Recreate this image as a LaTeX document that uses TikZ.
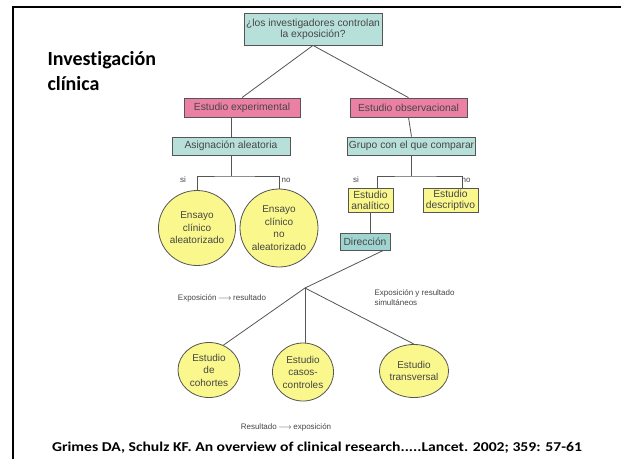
\documentclass[tikz,border=0pt]{standalone}
\usepackage{fontspec}
\setmainfont{Liberation Sans}
\newfontfamily\titlefont[Ligatures=NoCommon]{Carlito}
\usetikzlibrary{shapes.geometric}

\definecolor{tealfill}{RGB}{184,224,218}
\definecolor{tealdark}{RGB}{160,212,208}
\definecolor{pinkfill}{RGB}{236,128,164}
\definecolor{yellowfill}{RGB}{250,248,140}
\definecolor{edge}{RGB}{85,85,85}
\definecolor{ink}{RGB}{70,70,70}

\begin{document}
\begin{tikzpicture}[x=1pt, y=-1pt,
	box/.style = {rectangle, draw = edge, line width = 0.8pt,
		inner sep = 1pt, align = center, text = ink,
		font = \fontsize{10.3}{11}\selectfont},
	tealbox/.style = {box, fill = tealfill},
	pinkbox/.style = {box, fill = pinkfill},
	yellowbox/.style = {box, fill = yellowfill},
	disc/.style = {ellipse, draw = edge, line width = 0.8pt,
		fill = yellowfill, inner sep = 0pt, align = center, text = ink,
		font = \fontsize{10}{12.5}\selectfont},
	tag/.style = {text = ink, font = \fontsize{8}{9}\selectfont},
	note/.style = {text = ink, font = \fontsize{8}{10}\selectfont},
	link/.style = {draw = edge, line width = 0.8pt}]

	\useasboundingbox (0,0) rectangle (621,459);
	\fill[white] (0,0) rectangle (621,459);
	\draw[line width = 2pt] (13,459) -- (13,7) -- (621,7);

	\node[anchor = west, font = \titlefont\bfseries\fontsize{20}{25}\selectfont,
		align = left] (title) at (44,71) {Investigación\\clínica};

	\node[tealbox, minimum width = 138, minimum height = 32] (top) at (313,29)
		{¿los investigadores controlan\\la exposición?};

	\node[pinkbox, minimum width = 116, minimum height = 19] (exp) at (242,107.5)
		{Estudio experimental};
	\node[pinkbox, minimum width = 117, minimum height = 19] (obs) at (408.5,107.5)
		{Estudio observacional};

	\node[tealbox, minimum width = 118, minimum height = 18] (asig) at (231,146)
		{Asignación aleatoria};
	\node[tealbox, minimum width = 123, minimum height = 18] (grupo) at (411.5,146)
		{Grupo con el que comparar};

	\node[disc, minimum width = 75, minimum height = 75] (ecca) at (197,228)
		{Ensayo\\clínico\\aleatorizado};
	\node[disc, minimum width = 78, minimum height = 78] (eccna) at (279,228)
		{Ensayo\\clínico\\no\\aleatorizado};

	\node[yellowbox, minimum width = 45, minimum height = 24] (ana) at (370.5,200)
		{Estudio\\analítico};
	\node[yellowbox, minimum width = 55, minimum height = 24] (desc) at (450.5,200)
		{Estudio\\descriptivo};

	\node[tealbox, fill = tealdark, minimum width = 50, minimum height = 17] (dir) at (365,241.5)
		{Dirección};

	\node[disc, minimum width = 62, minimum height = 55] (coh) at (209,370)
		{Estudio\\de\\cohortes};
	\node[disc, minimum width = 61, minimum height = 58] (cc) at (303,372)
		{Estudio\\casos-\\controles};
	\node[disc, minimum width = 62, minimum height = 53] (trans) at (414,371)
		{Estudio\\transversal};

	% ramas
	\coordinate (asigbar) at (231,176);
	\coordinate (grupobar) at (411.5,176);
	\coordinate (jn) at (305,288);

	\draw[link] (top.south) -- (exp.north);
	\draw[link] (top.south) -- (obs.north);
	\draw[link] (asig.north |- exp.south) -- (asig.north);
	\draw[link] (obs.south) -- (grupo.north);
	\draw[link] (asig.south) -- (asigbar);
	\draw[link] (ecca.north) |- (asigbar) -| (eccna.north);
	\draw[link] (grupo.south) -- (grupobar);
	\draw[link] ([xshift = 7pt]ana.north) |- (grupobar) -| ([xshift = 12pt]desc.north);
	\draw[link] (ana.south) -- (ana.south |- dir.north);
	\draw[link] ([xshift = -7pt]dir.south east) -- (jn);
	\draw[link] (jn) -- (coh.60);
	\draw[link] (jn) -- (jn |- cc.north);
	\draw[link] (jn) -- (trans.north);

	\node[tag] (si1) at (183,180) {si};
	\node[tag] (no1) at (286,180) {no};
	\node[tag] (si2) at (356,180) {si};
	\node[tag] (no2) at (466,180) {no};

	\node[note] (er) at (222,298) {Exposición$\,\longrightarrow\,$resultado};
	\node[note, anchor = west, align = left] (sim) at (371,298)
		{Exposición y resultado\\simultáneos};
	\node[note] (re) at (286,427) {Resultado$\,\longrightarrow\,$exposición};

	\node[anchor = west, xscale = 1.16, font = \titlefont\bfseries\fontsize{13.5}{15}\selectfont] (ref) at (48,448)
		{Grimes DA, Schulz KF. An overview of clinical research.....Lancet. 2002; 359: 57-61};

\end{tikzpicture}
\end{document}
